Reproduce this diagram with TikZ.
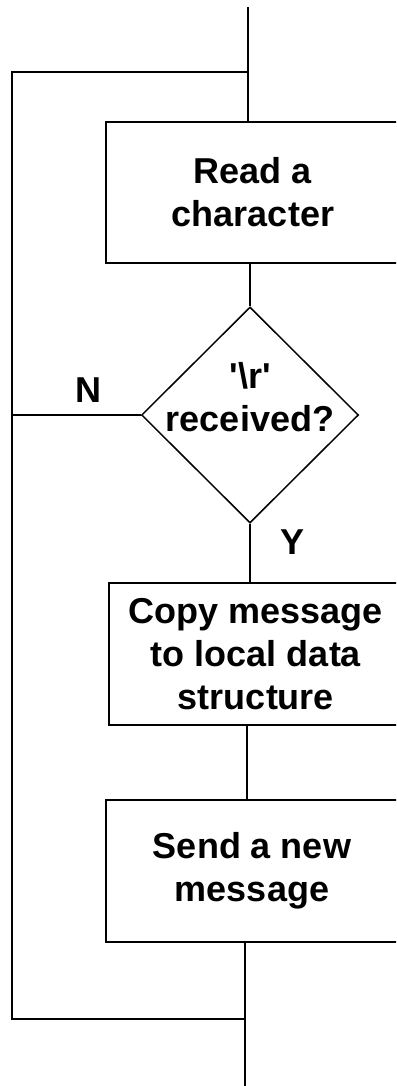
\documentclass[tikz,border=0pt]{standalone}
\usepackage{fontspec}
\setmainfont{Liberation Sans}
\usetikzlibrary{shapes.geometric}

\tikzset{
  flow/.style={line width=1.5pt},
  stepbox/.style={draw, line width=1.5pt, rectangle, inner sep=0pt, align=center,
    font=\bfseries\fontsize{36}{43}\selectfont},
  decision/.style={draw, line width=1.5pt, diamond, aspect=1, inner sep=0pt,
    minimum width=217pt, minimum height=216pt},
  lbl/.style={font=\bfseries\fontsize{36}{43}\selectfont, align=center, inner sep=0pt}
}

\begin{document}
\begin{tikzpicture}[x=1pt, y=-1pt]
  \useasboundingbox (0,0) rectangle (396,1086);
  \clip (0,0) rectangle (396,1086);

  % steps of the loop
  \node[stepbox, minimum width=294pt, minimum height=141pt] (read) at (253,192.5) {Read a\\character};
  \node[decision] (dec) at (250,415) {};
  \node[lbl] (decText) at (250,397) {\textquotesingle\textbackslash r\textquotesingle\\received?};
  \node[stepbox, minimum width=294pt, minimum height=142pt] (copy) at (256,654) {Copy message\\to local data\\structure};
  \node[stepbox, minimum width=292pt, minimum height=142pt] (send) at (252,871) {Send a new\\message};

  % branch labels
  \node[lbl] (no) at (88,390) {N};
  \node[lbl] (yes) at (293,542) {Y};

  % entry, exit and corners of the loop
  \coordinate (start) at (248,7);
  \coordinate (top) at (248,72);
  \coordinate (topLeft) at (12,72);
  \coordinate (bottom) at (245,1019);
  \coordinate (bottomLeft) at (12,1019);
  \coordinate (stop) at (245,1086);

  \draw[flow] (start) -- (read.north -| start);
  \draw[flow] (read.south -| dec.north) -- (dec.north);
  \draw[flow] (dec.south) -- (copy.north -| dec.south);
  \draw[flow] (copy.south -| 247,0) -- (send.north -| 247,0);
  \draw[flow] (send.south -| stop) -- (stop);
  \draw[flow] (bottom) -- (bottomLeft) -- (topLeft) -- (top);
  \draw[flow] (dec.west) -- (dec.west -| topLeft);
\end{tikzpicture}
\end{document}
